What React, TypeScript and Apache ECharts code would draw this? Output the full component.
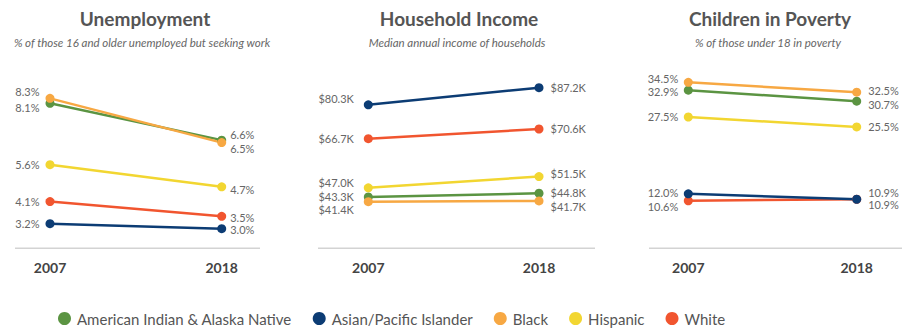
import React, { useEffect, useRef } from "react";
import * as echarts from "echarts";

const years = ["2007", "2018"];
const groups = [
  "American Indian & Alaska Native",
  "Asian/Pacific Islander",
  "Black",
  "Hispanic",
  "White",
];
const groupColors = ["#5B9442", "#0C3C74", "#F7A843", "#F2D631", "#F1552F"];

// values per group (same order as groups)
const unemployment2007 = [8.1, 3.2, 8.3, 5.6, 4.1];
const unemployment2018 = [6.6, 3.0, 6.5, 4.7, 3.5];
const income2007 = [43.3, 80.3, 41.4, 47.0, 66.7];
const income2018 = [44.8, 87.2, 41.7, 51.5, 70.6];
const poverty2007 = [32.9, 12.0, 34.5, 27.5, 10.6];
const poverty2018 = [30.7, 10.9, 32.5, 25.5, 10.9];

const panelTitles = ["Unemployment", "Household Income", "Children in Poverty"];
const panelSubtitles = [
  "% of those 16 and older unemployed but seeking work",
  "Median annual income of households",
  "% of those under 18 in poverty",
];

// layout (not data)
const layout = [
  { left: 50, width: 171.7, min: 2.2, max: 9.86, titleX: 145, subX: 142, lineX: [15, 260], distL: 6, distR: 4 },
  { left: 368.3, width: 170.7, min: 22.7, max: 98.3, titleX: 459, subX: 457, lineX: [318, 595], distL: 10, distR: 7 },
  { left: 688.3, width: 168.4, min: 1.0, max: 39.0, titleX: 770, subX: 768, lineX: [649, 902], distL: 5.5, distR: 7 },
];
const gridTop = 60;
const gridBottomY = 248.3;
// label vertical nudges per panel, per group, [2007, 2018]
const labelDy = [
  [[4.3, -5.7], [0, 1.3], [-6.6, 5.7], [0, 2.3], [0, 1]],
  [[0, -1], [-6, 0], [7.6, 5.7], [-5, -3], [0, 0]],
  [[1.5, 3.3], [-1.6, -6.3], [-3.5, -1.6], [0, 0], [6, 5]],
];
const drawOrder = [0, 2, 3, 4, 1];

const pct = (v: number) => v.toFixed(1) + "%";
const usd = (v: number) => "$" + v.toFixed(1) + "K";

const FONT = "Lato, 'Noto Sans', sans-serif";

export default function App() {
  const ref = useRef<HTMLDivElement>(null);
  useEffect(() => {
    if (!ref.current) return;
    const chart = echarts.init(ref.current, null, { renderer: "svg" });
    const panels = [
      { a: unemployment2007, b: unemployment2018, fmt: pct },
      { a: income2007, b: income2018, fmt: usd },
      { a: poverty2007, b: poverty2018, fmt: pct },
    ];
    const grids = layout.map((l) => ({
      left: l.left,
      width: l.width,
      top: gridTop,
      height: gridBottomY - gridTop,
    }));
    const xAxes = layout.map((_, i) => ({
      type: "category",
      gridIndex: i,
      data: years,
      boundaryGap: false,
      axisLine: { show: false },
      axisTick: { show: false },
      splitLine: { show: false },
      axisLabel: {
        margin: 12,
        fontFamily: FONT,
        fontSize: 14,
        fontWeight: "bold",
        color: "#444",
      },
    }));
    const yAxes = layout.map((l, i) => ({
      type: "value",
      gridIndex: i,
      min: l.min,
      max: l.max,
      show: false,
      splitLine: { show: false },
    }));
    const series: any[] = [];
    panels.forEach((p, pi) => {
      drawOrder.forEach((gi) => {
        const vals = [p.a[gi], p.b[gi]];
        series.push({
          type: "line",
          name: groups[gi],
          xAxisIndex: pi,
          yAxisIndex: pi,
          color: groupColors[gi],
          symbol: "circle",
          symbolSize: 9,
          lineStyle: { width: 2.5, color: groupColors[gi] },
          itemStyle: { color: groupColors[gi] },
          emphasis: { disabled: true },
          data: vals.map((v, k) => ({
            value: v,
            label: {
              show: true,
              position: k === 0 ? "left" : "right",
              distance: k === 0 ? layout[pi].distL : layout[pi].distR,
              offset: [0, labelDy[pi][gi][k]],
              formatter: () => p.fmt(v),
              fontFamily: FONT,
              fontSize: 11,
              color: "#666",
            },
          })),
        });
      });
    });
    const titles: any[] = [];
    layout.forEach((l, i) => {
      titles.push({
        text: panelTitles[i],
        left: l.titleX,
        textAlign: "center",
        top: 9,
        padding: 0,
        textStyle: { fontFamily: FONT, fontSize: 19, fontWeight: "bold", color: "#555" },
      });
      titles.push({
        text: panelSubtitles[i],
        left: l.subX,
        textAlign: "center",
        top: 36,
        padding: 0,
        textStyle: { fontFamily: FONT, fontSize: 11.5, fontStyle: "italic", fontWeight: "normal", color: "#666" },
      });
    });
    const graphics = layout.map((l) => ({
      type: "line",
      silent: true,
      shape: { x1: l.lineX[0], y1: gridBottomY, x2: l.lineX[1], y2: gridBottomY },
      style: { stroke: "#d3d3d3", lineWidth: 1.5 },
    }));
    chart.setOption({
      animation: false,
      backgroundColor: "#fff",
      title: titles,
      grid: grids,
      xAxis: xAxes,
      yAxis: yAxes,
      graphic: graphics,
      legend: {
        data: groups.map((g, i) => ({ name: g, itemStyle: { color: groupColors[i] } })),
        left: 58,
        top: 311,
        padding: 0,
        icon: "circle",
        itemWidth: 13,
        itemHeight: 13,
        itemGap: 21,
        textStyle: { fontFamily: FONT, fontSize: 15, color: "#555", padding: [0, 0, 0, 1] },
      },
      series,
    });
    return () => chart.dispose();
  }, []);
  return (
    <div
      ref={ref}
      style={{ position: "fixed", left: 0, top: 0, width: 907, height: 330, background: "#fff" }}
    />
  );
}
